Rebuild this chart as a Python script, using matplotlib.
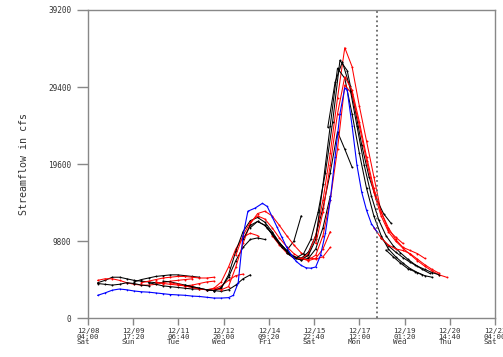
import numpy as np
import pandas as pd
import matplotlib
matplotlib.use('Agg')
import matplotlib.pyplot as plt

# hours since 12/08 04:00
obs_hours = [8, 14, 20, 26, 32, 38, 44, 50, 56, 62, 68, 74, 80, 86, 92, 98, 104, 110,
             116, 120, 124, 128, 132, 138, 144, 148, 152, 156, 160, 164, 168, 172, 176,
             180, 184, 188, 192, 196, 200, 204, 208, 212, 214, 218, 222, 226, 230, 234, 239]
obs_flow = [2900, 3200, 3550, 3700, 3600, 3450, 3350, 3300, 3200, 3100, 3000, 2950, 2900,
            2800, 2750, 2650, 2550, 2550, 2600, 2900, 4500, 10500, 13600, 14000, 14600,
            14200, 12900, 11600, 10300, 9000, 8000, 7200, 6700, 6400, 6350, 6500, 8000,
            10800, 15000, 20500, 26000, 29300, 29000, 24500, 19500, 16000, 13700, 12000, 10900]

# forecast traces: (colour, first hour, flows every 6 h)
fc_a1 = ('k', 8, [4500, 4800, 5200, 5200, 5000, 4800, 4700, 4600, 4500, 4500])
fc_a2 = ('r', 8, [4800, 5000, 5000, 4800, 4500, 4300, 4200, 4200, 4300, 4500, 4700, 4800, 4900, 5000])
fc_a3 = ('k', 8, [4400, 4300, 4200, 4300, 4500, 4400, 4200, 4100])
fc_a4 = ('k', 38, [4600, 4900, 5100, 5300, 5400, 5500, 5500, 5400, 5300, 5200])
fc_a5 = ('r', 44, [4500, 4700, 4900, 5100, 5200, 5300, 5300, 5200, 5100, 5100, 5200])
fc_a6 = ('k', 50, [4500, 4300, 4100, 4000, 3900, 3800, 3700, 3700])
fc_a7 = ('r', 56, [4600, 4400, 4300, 4200, 4100, 4200, 4400, 4600, 4700])
fc_a8 = ('k', 62, [4700, 4600, 4400, 4200, 4000, 3800, 3600, 3500, 3400, 3600, 4200, 5000, 5500])
fc_a9 = ('r', 68, [4500, 4300, 4100, 3900, 3700, 3600, 3700, 4100, 4800, 5400, 5600])
fc_b1 = ('r', 74, [4300, 4100, 3900, 3700, 3600, 3800, 4600, 6500, 8800, 10300, 10800, 10500])
fc_b2 = ('k', 80, [4200, 4000, 3800, 3600, 3500, 3900, 5200, 7300, 9000, 10000, 10200, 10000])
fc_b3 = ('k', 98, [3600, 3500, 3800, 5500, 8500, 11000, 12400, 12800, 12200, 11000, 9600, 8600, 9800, 13000])
fc_b4 = ('r', 104, [3800, 3600, 4000, 6500, 9500, 12000, 13300, 13600, 13000, 11800, 10500, 9300,
                    8300, 7700, 7500, 7800, 9000])
fc_b6 = ('k', 128, [10000, 11800, 12300, 11800, 10700, 9500, 8500, 7800, 7400, 7600, 8800, 11500, 15500])
fc_b7 = ('r', 122, [8000, 10500, 12200, 13000, 12600, 11500, 10200, 9100, 8200, 7600, 7300, 7600,
                    8800, 11000])
fc_m1 = ('k', 134, [11500, 12300, 11800, 10800, 9600, 8600, 7800, 7600, 8400, 10500, 14000, 18500,
                    23700, 21500, 19200])
fc_m2 = ('r', 152, [10500, 9300, 8300, 7700, 7500, 8200, 10500, 15000, 21000, 28000, 34400, 32000,
                    27000, 22500, 18000, 13500, 11200, 10300, 9500])
fc_m3 = ('k', 148, [11500, 10200, 9000, 8200, 7700, 8200, 10000, 13500, 18500, 25000, 32800, 31500,
                    27000, 22000, 18000, 15200, 13300, 12100])
fc_m4 = ('k', 164, [8300, 7600, 7400, 8000, 10000, 17000, 24500, 31800, 30500, 26000, 21000, 16500,
                    13000, 10500, 8800, 7800, 7000, 6300, 5800, 5400, 5200])
fc_m5 = ('r', 176, [7600, 7400, 8000, 10500, 15000, 21500, 29650, 28500, 24500, 20000, 16000, 13000,
                    11000, 9800, 8900, 8100, 7300, 6600, 6000, 5500, 5200])
fc_m6 = ('k', 198, [24300, 30000, 32600, 29500, 24500, 19500, 15500, 12500, 10500, 9200, 8300, 7500,
                    6800, 6200, 5700])
fc_m7 = ('r', 188, [9500, 13500, 19500, 26000, 30700, 29000, 25000, 20500, 16500, 13500, 11500, 10000,
                    9000, 8600, 8200, 7600])
fc_r1 = ('k', 246, [8650, 7800, 7000, 6300, 5900, 5500])
fc_r2 = ('k', 242, [10200, 9200, 8400, 7700, 7100, 6600, 6200, 5800, 5500])
fc_r3 = ('r', 236, [11500, 10200, 9300, 8800, 8600, 8200, 7500, 6800, 6200, 5700])

forecasts = [fc_a1, fc_a2, fc_a3, fc_a4, fc_a5, fc_a6, fc_a7, fc_a8, fc_a9, fc_b1, fc_b2,
             fc_b3, fc_b4, fc_b6, fc_b7, fc_m1, fc_m2, fc_m3, fc_m4, fc_m5, fc_m6, fc_m7,
             fc_r1, fc_r2, fc_r3]

now_hour = 239
y_ticks = [0, 9800, 19600, 29400, 39200]
start = pd.Timestamp('2018-12-08 04:00')
tick_step = 37 + 1 / 3.0
x_ticks = [i * tick_step for i in range(10)]
x_labels = [(start + pd.Timedelta(hours=h)).strftime('%m/%d\n%H:%M\n%a') for h in x_ticks]

fig = plt.figure(figsize=(5.03, 3.57), dpi=100)
ax = fig.add_axes([0.175, 0.109, 0.809, 0.863])

colors = {'k': '#000000', 'r': '#ff0000'}
for c, h0, flows in forecasts:
    hrs = h0 + 6 * np.arange(len(flows))
    ax.plot(hrs, flows, color=colors[c], lw=0.75, marker='.', ms=2.8, mew=0)

ax.plot(obs_hours, obs_flow, color='#0000ff', lw=0.8, marker='.', ms=2.4, mew=0)
ax.axvline(now_hour, color='#666666', lw=1.3, ls=(0, (1, 1.6)))

ax.set_xlim(0, 336)
ax.set_ylim(0, 39200)
ax.set_xticks(x_ticks)
ax.set_xticklabels(x_labels, family='DejaVu Sans Mono', fontsize=5.4, linespacing=0.95,
                   multialignment='left')
ax.set_yticks(y_ticks)
ax.set_yticklabels([str(v) for v in y_ticks], family='DejaVu Sans Mono', fontsize=5.6)
ax.set_ylabel('Streamflow in cfs', family='DejaVu Sans Mono', fontsize=7.2, color='#333333', labelpad=14)
for s in ax.spines.values():
    s.set_color('#888888')
    s.set_linewidth(1.0)
ax.tick_params(axis='y', length=8, width=1, color='#888888', labelcolor='#333333', pad=4)
ax.tick_params(axis='x', length=5, width=1, color='#888888', labelcolor='#333333', pad=2)

fig.savefig('out.png', dpi=100)
